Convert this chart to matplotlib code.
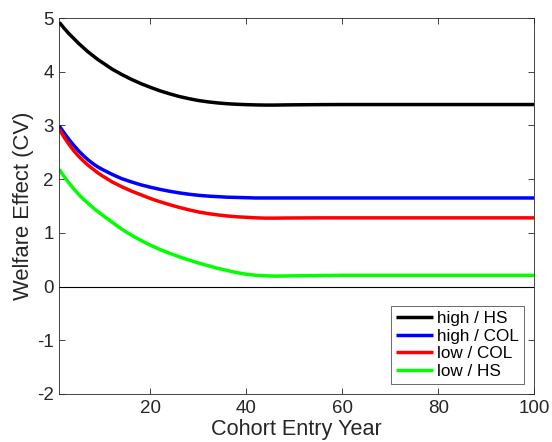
import numpy as np
import matplotlib.pyplot as plt

plt.rcParams['font.family'] = ['Liberation Sans', 'DejaVu Sans']
plt.rcParams['axes.unicode_minus'] = False

# Cohort entry years and welfare effects (CV) per group
years = [1, 2, 3, 4, 5, 6, 7, 8, 9, 10, 12, 14, 16, 18, 20, 22, 24, 26, 28, 30,
         32, 34, 36, 38, 40, 42, 44, 46, 48, 50, 55, 60, 70, 80, 90, 100]

high_hs = [4.92, 4.81, 4.71, 4.62, 4.53, 4.45, 4.37, 4.30, 4.23, 4.17, 4.05, 3.95,
           3.86, 3.78, 3.71, 3.645, 3.59, 3.54, 3.50, 3.465, 3.44, 3.42, 3.405, 3.395,
           3.388, 3.383, 3.38, 3.38, 3.383, 3.385, 3.388, 3.39, 3.39, 3.39, 3.39, 3.39]
high_col = [2.99, 2.86, 2.74, 2.63, 2.53, 2.44, 2.36, 2.29, 2.23, 2.18, 2.09, 2.01,
            1.95, 1.895, 1.85, 1.81, 1.775, 1.745, 1.72, 1.70, 1.685, 1.675, 1.665, 1.66,
            1.655, 1.65, 1.65, 1.65, 1.65, 1.65, 1.65, 1.65, 1.65, 1.65, 1.65, 1.65]
low_col = [2.93, 2.78, 2.65, 2.53, 2.43, 2.34, 2.26, 2.19, 2.12, 2.06, 1.95, 1.86,
           1.78, 1.71, 1.64, 1.58, 1.525, 1.475, 1.43, 1.39, 1.36, 1.335, 1.315, 1.30,
           1.29, 1.28, 1.275, 1.275, 1.277, 1.278, 1.28, 1.28, 1.28, 1.28, 1.28, 1.28]
low_hs = [2.18, 2.05, 1.93, 1.82, 1.72, 1.63, 1.55, 1.47, 1.40, 1.33, 1.20, 1.07,
          0.96, 0.86, 0.77, 0.69, 0.62, 0.555, 0.495, 0.44, 0.39, 0.34, 0.30, 0.26,
          0.23, 0.21, 0.20, 0.195, 0.197, 0.20, 0.205, 0.21, 0.21, 0.21, 0.21, 0.21]

labels = ['high / HS', 'high / COL', 'low / COL', 'low / HS']
colors = ['#000000', '#0000ff', '#ff0000', '#00ff00']

fig = plt.figure(figsize=(5.52, 4.42), dpi=100)
ax = fig.add_axes([0.1075, 0.1086, 0.8600, 0.8505])

for vals, lab, col in zip([high_hs, high_col, low_col, low_hs], labels, colors):
    ax.plot(years, vals, color=col, linewidth=2.5, label=lab,
            solid_joinstyle='round', solid_capstyle='butt')

# zero reference line
ax.axhline(0, color='black', linewidth=0.8)

ax.set_xlim(1, 100)
ax.set_ylim(-2, 5)
ax.set_xticks([20, 40, 60, 80, 100])
ax.set_yticks(range(-2, 6))

ax.tick_params(direction='in', top=True, right=True, length=4, width=0.6,
               labelsize=13.5, colors='#262626', pad=4)
for s in ax.spines.values():
    s.set_color('#262626')
    s.set_linewidth(0.6)

ax.set_xlabel('Cohort Entry Year', fontsize=15.6, color='#262626', labelpad=1.5)
ax.set_ylabel('Welfare Effect (CV)', fontsize=15.8, color='#262626', labelpad=2)

leg = ax.legend(loc='lower right', fontsize=12.3, frameon=True, fancybox=False,
                edgecolor='#262626', handlelength=2.2, handletextpad=0.2,
                borderpad=0.3, labelspacing=0.14, borderaxespad=0.6)
leg.get_frame().set_linewidth(0.6)

fig.savefig('out.png', dpi=100)
